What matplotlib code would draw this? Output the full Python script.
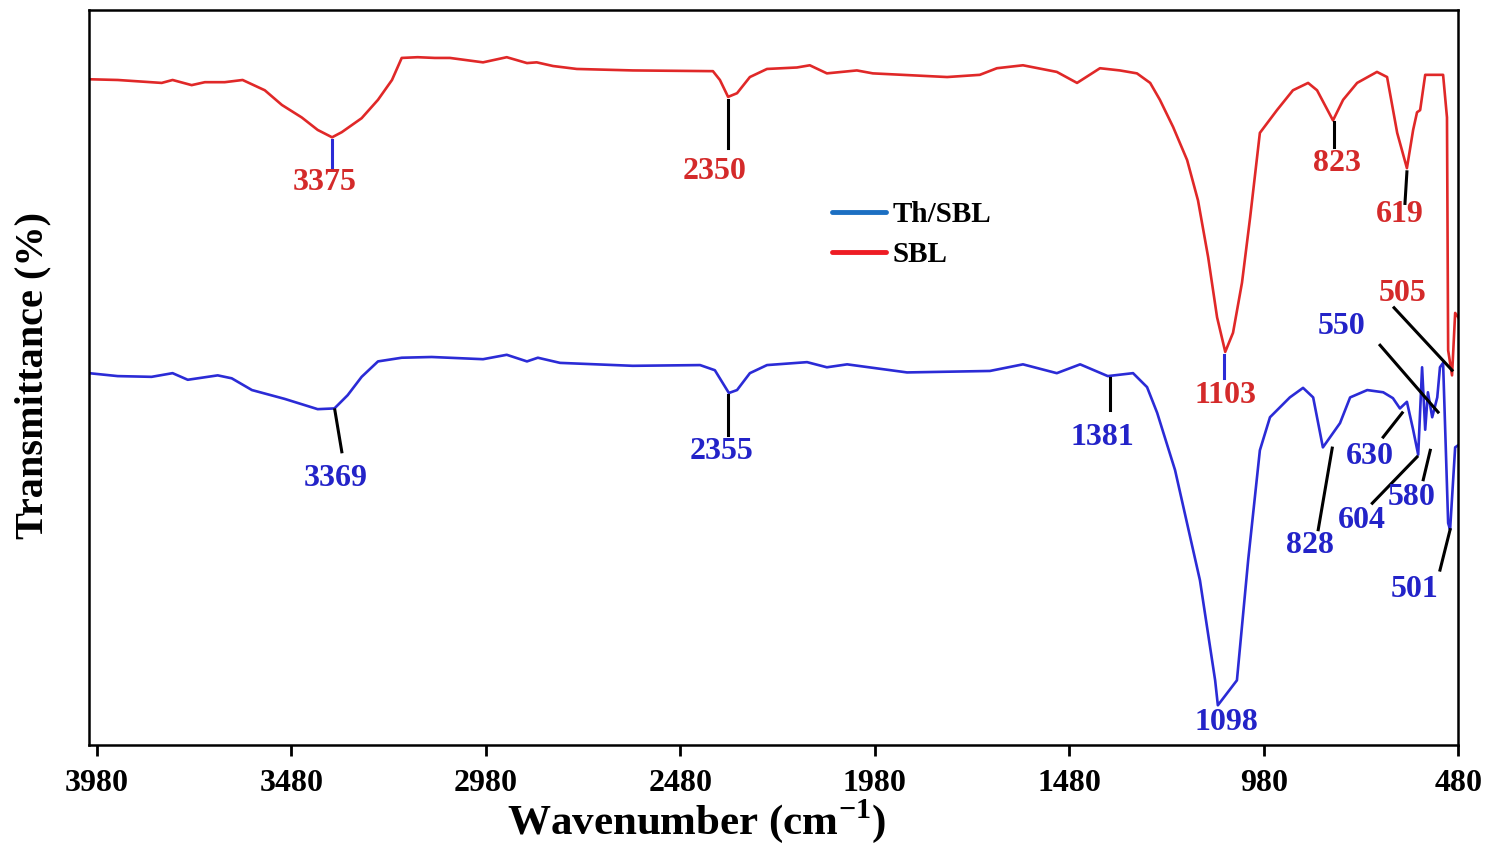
import numpy as np
import matplotlib
matplotlib.use("Agg")
from matplotlib import pyplot as plt
from matplotlib.lines import Line2D

plt.rcParams['font.family'] = ['Liberation Serif', 'DejaVu Serif']
plt.rcParams['font.weight'] = 'bold'
plt.rcParams['mathtext.fontset'] = 'custom'
plt.rcParams['mathtext.rm'] = 'Liberation Serif:bold'
plt.rcParams['mathtext.bf'] = 'Liberation Serif:bold'

# SBL spectrum (wavenumber cm-1, transmittance, arbitrary %)
sbl_wn = [4000, 3926, 3813, 3785, 3736, 3702, 3651, 3605, 3548, 3504, 3453, 3412,
          3375, 3350, 3299, 3257, 3221, 3196, 3155, 3111, 3072, 2987, 2926, 2874,
          2849, 2807, 2746, 2602, 2396, 2378, 2357, 2334, 2301, 2257, 2180, 2147,
          2103, 2026, 1985, 1794, 1710, 1666, 1599, 1512, 1460, 1401, 1350, 1306,
          1272, 1247, 1213, 1177, 1149, 1123, 1100, 1079, 1059, 1036, 1015, 990,
          946, 905, 866, 843, 802, 776, 740, 689, 663, 637, 612, 596, 586, 578,
          565, 534, 519, 509, 506, 496, 488, 480]
sbl_t = [90.6, 90.5, 90.1, 90.5, 89.8, 90.2, 90.2, 90.5, 89.1, 87.1, 85.4, 83.7,
         82.7, 83.4, 85.3, 87.8, 90.5, 93.5, 93.6, 93.5, 93.5, 92.9, 93.6, 92.8,
         92.9, 92.4, 92.0, 91.8, 91.7, 90.5, 88.2, 88.7, 90.9, 92.0, 92.2, 92.5,
         91.4, 91.8, 91.4, 90.9, 91.2, 92.1, 92.5, 91.6, 90.1, 92.1, 91.8, 91.4,
         90.1, 87.8, 84.1, 79.6, 74.1, 66.4, 58.2, 53.5, 56.1, 62.9, 71.8, 83.3,
         86.4, 89.1, 90.1, 89.1, 85.0, 87.8, 90.1, 91.6, 90.9, 83.3, 78.5, 83.7,
         86.1, 86.4, 91.2, 91.2, 91.2, 85.4, 53.7, 50.3, 58.8, 58.2]

# Th/SBL spectrum
th_wn = [4000, 3926, 3839, 3785, 3746, 3669, 3633, 3581, 3497, 3412, 3369, 3335,
         3299, 3257, 3196, 3119, 2987, 2926, 2874, 2846, 2789, 2602, 2429, 2391,
         2355, 2334, 2301, 2257, 2154, 2103, 2051, 1897, 1684, 1599, 1512, 1452,
         1381, 1316, 1280, 1254, 1208, 1144, 1105, 1098, 1049, 1020, 990, 964,
         913, 879, 853, 828, 784, 758, 714, 673, 648, 630, 612, 596, 583, 573,
         565, 558, 547, 534, 527, 519, 506, 501, 488, 480]
th_t = [50.6, 50.2, 50.1, 50.6, 49.7, 50.3, 49.9, 48.3, 47.1, 45.7, 45.8, 47.6,
        50.1, 52.2, 52.7, 52.8, 52.5, 53.1, 52.2, 52.7, 52.0, 51.6, 51.7, 51.0,
        47.9, 48.3, 50.6, 51.7, 52.1, 51.4, 51.8, 50.7, 50.9, 51.8, 50.6, 51.8,
        50.2, 50.6, 48.7, 45.2, 37.4, 22.4, 8.8, 5.4, 8.8, 25.2, 40.1, 44.6,
        47.3, 48.6, 47.3, 40.5, 43.8, 47.3, 48.3, 48.0, 47.2, 45.8, 46.7, 42.9,
        39.5, 51.4, 42.9, 48.0, 44.6, 47.3, 51.4, 52.0, 30.2, 29.3, 40.5, 40.8]

red = '#e02828'
blue = '#2b2bd6'
lab_red = '#d42a2a'
lab_blue = '#2323c8'

# peak labels: text, text x, text y, line (x0, y0, x1, y1), text colour, line colour
sbl_peaks = [
    ('3375', 3394, 76.5, (3375, 82.3, 3375, 78.6), lab_red, blue),
    ('2350', 2391, 78.1, (2357, 87.8, 2357, 81.2), lab_red, 'black'),
    ('1103', 1079, 47.6, (1082, 53.1, 1082, 49.9), lab_red, blue),
    ('823', 791, 79.2, (799, 84.8, 799, 81.4), lab_red, 'black'),
    ('619', 630, 72.2, (612, 78.0, 617, 73.7), lab_red, 'black'),
    ('505', 624, 61.5, (645, 59.5, 496, 51.0), lab_red, 'black'),
]
th_peaks = [
    ('3369', 3365, 36.3, (3368, 45.6, 3350, 39.9), lab_blue, 'black'),
    ('2355', 2373, 39.9, (2357, 47.6, 2357, 42.2), lab_blue, 'black'),
    ('1381', 1396, 41.9, (1375, 49.9, 1375, 45.6), lab_blue, 'black'),
    ('1098', 1077, 3.1, None, lab_blue, 'black'),
    ('550', 779, 56.9, (681, 54.4, 532, 45.3), lab_blue, 'black'),
    ('630', 707, 39.2, (673, 41.9, 624, 45.2), lab_blue, 'black'),
    ('580', 599, 33.7, (570, 36.1, 552, 40.1), lab_blue, 'black'),
    ('604', 727, 30.6, (701, 32.9, 586, 39.2), lab_blue, 'black'),
    ('828', 861, 27.2, (840, 29.3, 804, 40.4), lab_blue, 'black'),
    ('501', 593, 21.1, (527, 23.8, 501, 29.3), lab_blue, 'black'),
]

fig = plt.figure(figsize=(14.9, 8.48), dpi=100)
ax = fig.add_axes([0.0597, 0.1215, 0.919, 0.8665])

ax.plot(sbl_wn, sbl_t, color=red, lw=1.9)
ax.plot(th_wn, th_t, color=blue, lw=1.9)

for txt, tx, ty, seg, tc, lc in sbl_peaks + th_peaks:
    if seg is not None:
        ax.plot([seg[0], seg[2]], [seg[1], seg[3]], color=lc, lw=2.2)
    ax.text(tx, ty, txt, color=tc, fontsize=23, fontweight='bold',
            ha='center', va='center')

ax.set_xlim(4000, 480)
ax.set_ylim(0, 100)
ax.set_xticks([3980, 3480, 2980, 2480, 1980, 1480, 980, 480])
ax.set_yticks([])
ax.tick_params(axis='x', direction='out', length=8, width=2, pad=9, labelsize=23)
for lbl in ax.get_xticklabels():
    lbl.set_fontweight('bold')
for sp in ax.spines.values():
    sp.set_linewidth(1.8)

ax.set_xlabel('Wavenumber (cm$^{-1}$)', fontsize=31, fontweight='bold')
ax.xaxis.label.set_va('center')
ax.xaxis.set_label_coords(0.444, -0.104)
ax.set_ylabel('Transmittance (%)', fontsize=29, fontweight='bold')
ax.yaxis.label.set_va('center')
ax.yaxis.set_label_coords(-0.041, 0.503)

handles = [Line2D([], [], color='#1c6fc2', lw=3.5, solid_capstyle='round'),
           Line2D([], [], color='#ee1c24', lw=3.5, solid_capstyle='round')]
ax.legend(handles, ['Th/SBL', 'SBL'], loc='upper left',
          bbox_to_anchor=(0.543, 0.74), frameon=False, borderpad=0,
          borderaxespad=0, handlelength=1.85, handletextpad=0.2,
          labelspacing=0.45, prop={'family': 'Liberation Serif',
                                   'weight': 'bold', 'size': 21})

fig.savefig('out.png', dpi=100)
